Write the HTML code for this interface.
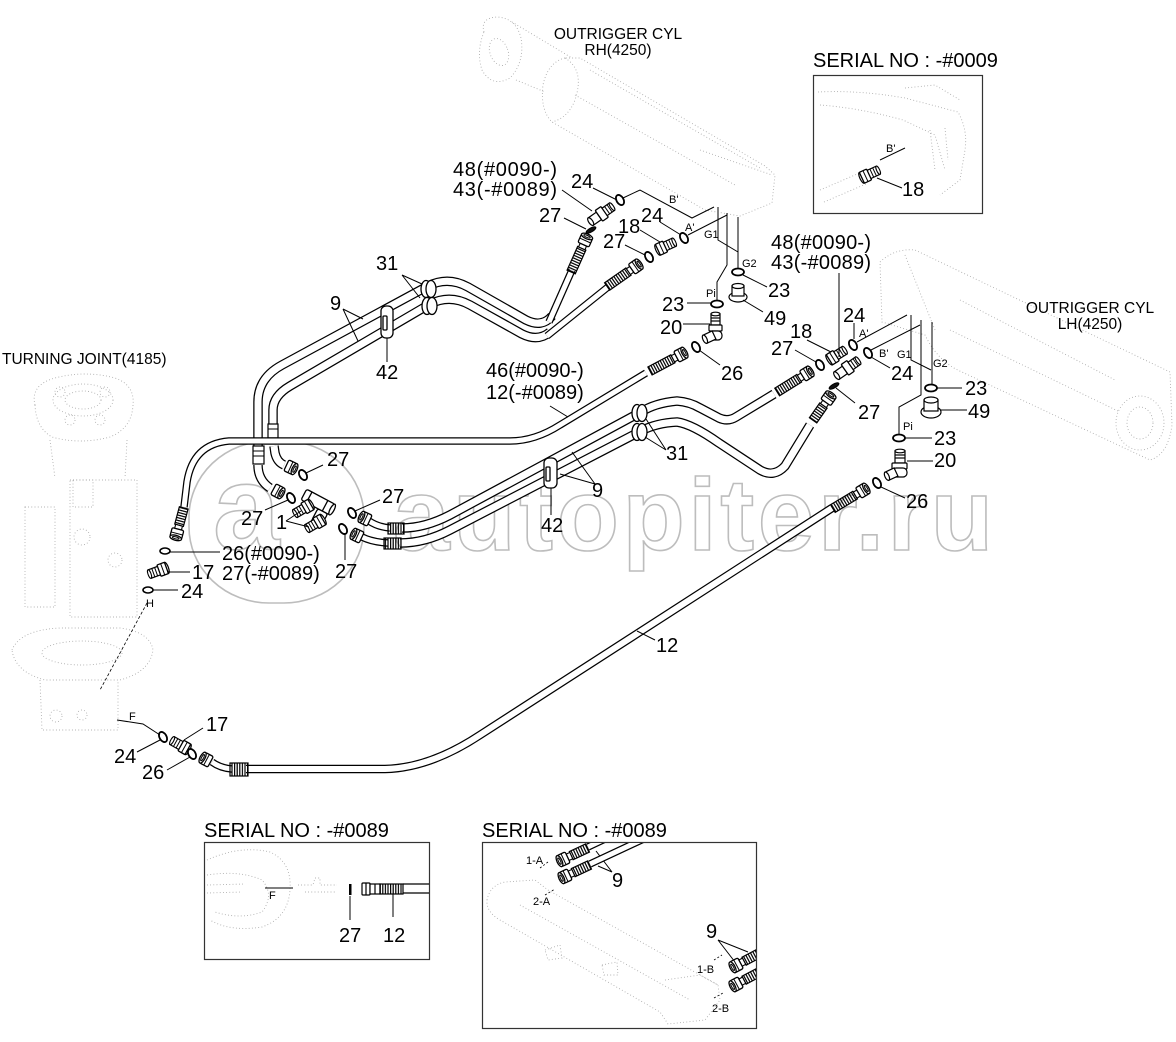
<!DOCTYPE html>
<html><head><meta charset="utf-8"><style>
html,body{margin:0;padding:0;background:#fff;overflow:hidden}
svg{display:block}
.t{font-family:"Liberation Sans",Arial,sans-serif;font-size:20px;fill:#000}
.s{font-family:"Liberation Sans",Arial,sans-serif;font-size:11px;fill:#000}
.m{font-family:"Liberation Sans",Arial,sans-serif;font-size:15.5px;fill:#000}
.ld{stroke:#000;stroke-width:1;fill:none}
.to{stroke:#000;stroke-width:9.5;fill:none}
.ti{stroke:#fff;stroke-width:7;fill:none}
.ho{stroke:#000;stroke-width:7.5;fill:none}
.hi{stroke:#fff;stroke-width:5;fill:none}
.g{fill:none;stroke:#a0a0a0;stroke-width:0.9;stroke-dasharray:0.8 2.4}
</style></head><body>
<svg width="1176" height="1042" viewBox="0 0 1176 1042" xmlns="http://www.w3.org/2000/svg">
<defs>
<pattern id="ht" width="2.6" height="14" patternUnits="userSpaceOnUse"><rect x="0" y="0" width="1.2" height="14" fill="#000"/></pattern>
<clipPath id="cb"><rect x="483" y="843" width="273" height="185"/></clipPath>
<clipPath id="cl"><rect x="205" y="843" width="224" height="116"/></clipPath>
<g id="hend">
<rect x="-34" y="-4.5" width="26" height="9" fill="url(#ht)" stroke="#000" stroke-width="1.2"/>
<rect x="-8" y="-3.5" width="4" height="7" fill="#fff" stroke="#000" stroke-width="1.1"/>
<rect x="-4" y="-6" width="9" height="12" rx="1.5" fill="#fff" stroke="#000" stroke-width="1.3"/>
<line x1="0.5" y1="-6" x2="0.5" y2="6" stroke="#000"/>
<ellipse cx="5" cy="0" rx="2.5" ry="6" fill="#fff" stroke="#000" stroke-width="1.3"/>
<ellipse cx="5" cy="0" rx="1" ry="3.5" fill="none" stroke="#000"/>
</g>
<g id="hend2">
<rect x="-26" y="-4.5" width="18" height="9" fill="url(#ht)" stroke="#000" stroke-width="1.2"/>
<rect x="-8" y="-3.5" width="4" height="7" fill="#fff" stroke="#000" stroke-width="1.1"/>
<rect x="-4" y="-6" width="9" height="12" rx="1.5" fill="#fff" stroke="#000" stroke-width="1.3"/>
<line x1="0.5" y1="-6" x2="0.5" y2="6" stroke="#000"/>
<ellipse cx="5" cy="0" rx="2.5" ry="6" fill="#fff" stroke="#000" stroke-width="1.3"/>
<ellipse cx="5" cy="0" rx="1" ry="3.5" fill="none" stroke="#000"/>
</g>
<g id="nut">
<rect x="-4" y="-6" width="9" height="12" rx="1.5" fill="#fff" stroke="#000" stroke-width="1.3"/>
<line x1="0.5" y1="-6" x2="0.5" y2="6" stroke="#000"/>
<ellipse cx="5" cy="0" rx="2.5" ry="6" fill="#fff" stroke="#000" stroke-width="1.3"/>
<ellipse cx="5" cy="0" rx="1" ry="3.5" fill="none" stroke="#000"/>
</g>
<g id="nip" stroke="#000" fill="#fff">
<ellipse cx="-9" cy="0" rx="2" ry="6" stroke-width="1.2"/>
<rect x="-9" y="-6" width="8" height="12" rx="1" stroke-width="1.3"/>
<line x1="-5" y1="-6" x2="-5" y2="6"/>
<rect x="-1" y="-4.5" width="10" height="9" stroke-width="1.2"/>
<line x1="2" y1="-4.5" x2="2" y2="4.5"/><line x1="5" y1="-4.5" x2="5" y2="4.5"/>
<ellipse cx="9" cy="0" rx="1.5" ry="4.5" stroke-width="1.1"/>
</g>
<g id="st" stroke="#000" fill="#fff">
<rect x="-15" y="-4.5" width="10" height="9" stroke-width="1.2"/>
<ellipse cx="-15" cy="0" rx="2" ry="4.5" stroke-width="1.2"/>
<rect x="-5" y="-6.5" width="7" height="13" rx="1" stroke-width="1.3"/>
<rect x="2" y="-4.5" width="9" height="9" stroke-width="1.2"/>
<line x1="5" y1="-4.5" x2="5" y2="4.5"/><line x1="8" y1="-4.5" x2="8" y2="4.5"/>
<ellipse cx="11" cy="0" rx="1.5" ry="4.5" stroke-width="1.1"/>
</g>
<ellipse id="or" cx="0" cy="0" rx="3.5" ry="5.5" fill="#fff" stroke="#000" stroke-width="1.8"/>
</defs>
<rect width="1176" height="1042" fill="#fff"/>

<!-- ghost drawings -->
<g class="g">
<path d="M484,32 Q480,18 497,17 Q516,18 521,38 Q525,62 510,78 Q492,88 482,70 Q476,52 484,32 Z"/>
<ellipse cx="499" cy="52" rx="9" ry="14" transform="rotate(-20 499 52)"/>
<path d="M512,22 L572,58 M516,80 L545,92"/>
<path d="M565,58 Q548,62 543,85 Q540,110 552,122 L705,210 L740,216 L772,203 L775,175 L765,166 L580,58 Z"/>
<path d="M575,95 L735,185 M700,150 L772,175 M565,58 Q585,70 575,100 Q568,118 552,122 M590,70 L760,168"/>
<path d="M880,262 Q895,248 915,250 L1170,372 L1172,425 Q1168,455 1150,460 L962,372 Q938,362 925,335 L882,322 Z"/>
<path d="M905,255 L935,330 M960,300 L1115,380 M950,330 L1120,412"/>
<ellipse cx="1140" cy="423" rx="24" ry="27"/>
<ellipse cx="1140" cy="423" rx="13" ry="16"/>
<path d="M818,92 Q860,90 905,98 L958,112 Q968,130 965,150 L960,180 L940,195"/>
<path d="M820,105 Q860,108 903,120 L935,135 L945,170 M905,88 L935,85 L960,100"/>
<path d="M820,190 L862,172 M824,202 L866,184 M930,130 L935,170 M945,128 L948,160"/>
<path d="M35,405 Q30,385 55,378 Q85,370 115,378 Q135,385 133,405 Q132,428 110,437 Q80,445 52,437 Q36,428 35,405 Z"/>
<ellipse cx="83" cy="400" rx="30" ry="16"/>
<ellipse cx="83" cy="400" rx="18" ry="9"/>
<circle cx="60" cy="392" r="5"/><circle cx="105" cy="392" r="5"/><circle cx="70" cy="420" r="5"/><circle cx="100" cy="420" r="5"/>
<path d="M50,440 L55,478 M127,440 L125,478"/>
<rect x="70" y="480" width="67" height="137"/>
<rect x="73" y="480" width="20" height="27"/>
<rect x="25" y="507" width="30" height="100"/>
<circle cx="82" cy="537" r="8"/><circle cx="115" cy="560" r="7"/>
<path d="M12,650 Q20,630 60,628 L120,628 Q150,632 153,650 Q150,672 120,680 L45,680 Q15,672 12,650 Z"/>
<ellipse cx="82" cy="653" rx="40" ry="12"/>
<path d="M40,680 L42,730 L118,730 L118,680"/>
<circle cx="56" cy="716" r="6"/><circle cx="82" cy="715" r="5"/>
<path d="M207,860 Q240,845 270,852 Q292,862 290,890 Q288,918 262,927 Q230,932 210,920"/>
<path d="M207,875 Q240,870 262,880 Q275,895 262,912 Q240,920 215,912 M207,885 L245,884 M207,893 L242,892"/>
<path d="M298,885 L313,885 L315,878 L320,878 L320,885 L337,885 M305,892 L337,892"/>
<path d="M487,900 Q490,885 505,882 L535,880 L548,890 L718,985 L720,1000 L705,1020 L668,1024 L660,1012 L500,920 Q486,912 487,900 Z"/>
<path d="M520,905 L690,1000 M545,950 L560,945 L562,958 L548,960 Z M602,965 L617,962 L618,975 L604,975 Z M665,980 L700,975 L718,985"/>
</g>

<!-- watermark -->
<g fill="none" stroke="#bdbdbd" stroke-width="1.6" font-family="Liberation Sans, Arial, sans-serif" font-weight="bold">
<rect x="189" y="441" width="175" height="162" rx="80" ry="76"/>
<text x="213" y="549" font-size="120">a</text>
<text x="393" y="550" font-size="102" textLength="600" lengthAdjust="spacing">autopiter.ru</text>
</g>

<!-- boxes -->
<g fill="none" stroke="#333" stroke-width="1.2">
<rect x="813.5" y="75.5" width="169" height="138"/>
<rect x="204.5" y="842.5" width="225" height="117"/>
<rect x="482.5" y="842.5" width="274" height="186"/>
</g>

<!-- upper tube pair 9 -->
<path class="to" d="M258,447 L258,402 Q258,378 282,365 L428,286 Q448,276 468,287 L526,320 Q542,328 552,316"/>
<path class="ti" d="M258,447 L258,402 Q258,378 282,365 L428,286 Q448,276 468,287 L526,320 Q542,328 552,316"/>
<path class="to" d="M273,437 L273,410 Q273,396 290,386 L430,304 Q450,294 470,305 L522,334 Q538,342 550,332"/>
<path class="ti" d="M273,437 L273,410 Q273,396 290,386 L430,304 Q450,294 470,305 L522,334 Q538,342 550,332"/>
<path class="ho" d="M549,322 L572,270"/><path class="hi" d="M549,322 L572,270"/>
<path class="ho" d="M547,336 L608,287"/><path class="hi" d="M547,336 L608,287"/>
<use href="#hend" transform="translate(585,241) rotate(-66)"/>
<use href="#hend" transform="translate(635,267) rotate(-35)"/>
<!-- left ends upper -->
<rect x="253" y="446" width="11" height="18" fill="#fff" stroke="#000" stroke-width="1.2"/>
<line x1="253" y1="451" x2="264" y2="451" stroke="#000"/><line x1="253" y1="456" x2="264" y2="456" stroke="#000"/>
<path class="to" d="M258,465 Q258,480 270,488"/><path class="ti" d="M258,465 Q258,480 270,488"/>
<use href="#nut" transform="translate(277,491) rotate(28)"/>
<rect x="268" y="424" width="10" height="14" fill="#fff" stroke="#000" stroke-width="1.2"/>
<line x1="268" y1="429" x2="278" y2="429" stroke="#000"/>
<path class="to" d="M274,446 L275,453 Q277,462 284,465"/><path class="ti" d="M274,446 L275,453 Q277,462 284,465"/>
<use href="#nut" transform="translate(290,467) rotate(25)"/>

<!-- hose 46/12 -->
<path class="ho" d="M184,507 L187,482 Q193,444 229,441 L510,441 Q535,441 560,425 L646,373"/>
<path class="hi" d="M184,507 L187,482 Q193,444 229,441 L510,441 Q535,441 560,425 L646,373"/>
<use href="#hend" transform="translate(680,355) rotate(-28)"/>
<use href="#hend2" transform="translate(177,533) rotate(105)"/>

<!-- clamps upper -->
<g fill="#fff" stroke="#000" stroke-width="1.3">
<ellipse cx="426" cy="289" rx="5" ry="8.5"/><ellipse cx="431" cy="289" rx="5" ry="8.5"/>
<ellipse cx="427" cy="306" rx="5" ry="8.5"/><ellipse cx="432" cy="306" rx="5" ry="8.5"/>
<rect x="381" y="306" width="12" height="32" rx="5"/>
<rect x="383" y="316" width="4" height="14" rx="1"/>
</g>

<!-- lower tube pair 9 -->
<path class="to" d="M402,528 Q425,528 450,515 L641,412 Q655,403 677,401 Q690,402 700,408 L719,418 Q728,422 736,417 L774,394"/>
<path class="ti" d="M402,528 Q425,528 450,515 L641,412 Q655,403 677,401 Q690,402 700,408 L719,418 Q728,422 736,417 L774,394"/>
<path class="to" d="M400,543 Q425,543 450,530 L641,431 Q656,423 677,422 Q692,424 719,443 L760,470 Q774,478 785,466 L810,425"/>
<path class="ti" d="M400,543 Q425,543 450,530 L641,431 Q656,423 677,422 Q692,424 719,443 L760,470 Q774,478 785,466 L810,425"/>
<use href="#hend" transform="translate(806,374) rotate(-32)"/>
<use href="#hend2" transform="translate(828,399) rotate(-55)"/>
<g fill="#fff" stroke="#000" stroke-width="1.3">
<ellipse cx="637" cy="413" rx="5" ry="8.5"/><ellipse cx="642" cy="413" rx="5" ry="8.5"/>
<ellipse cx="637" cy="432" rx="5" ry="8.5"/><ellipse cx="642" cy="432" rx="5" ry="8.5"/>
<rect x="544" y="458" width="13" height="30" rx="5"/>
<rect x="546" y="467" width="4" height="14" rx="1"/>
</g>
<!-- left ends lower -->
<path class="ho" d="M390,528 Q378,527 369,521"/><path class="hi" d="M390,528 Q378,527 369,521"/>
<path class="ho" d="M388,543 Q372,542 362,537"/><path class="hi" d="M388,543 Q372,542 362,537"/>
<rect x="388" y="523" width="16" height="11" fill="url(#ht)" stroke="#000" stroke-width="1.2"/>
<rect x="384" y="538" width="17" height="11" fill="url(#ht)" stroke="#000" stroke-width="1.2"/>
<use href="#nut" transform="translate(366,519) rotate(-155)"/>
<use href="#nut" transform="translate(358,536) rotate(-155)"/>

<!-- hose 12 -->
<path stroke="#000" stroke-width="8.5" fill="none" d="M246,769 L385,769 Q430,768 480,735 L832,508"/>
<path stroke="#fff" stroke-width="6" fill="none" d="M246,769 L385,769 Q430,768 480,735 L832,508"/>
<use href="#hend" transform="translate(862,491) rotate(-31)"/>
<path class="ho" d="M232,769 Q220,768 212,762"/><path class="hi" d="M232,769 Q220,768 212,762"/>
<rect x="230" y="763" width="18" height="13" fill="url(#ht)" stroke="#000" stroke-width="1.2"/>
<use href="#nut" transform="translate(207,760) rotate(-152)"/>

<!-- RH cluster fittings -->
<use href="#st" transform="translate(603,213) rotate(-35)"/>
<use href="#nip" transform="translate(666,246) rotate(-25)"/>
<use href="#or" transform="translate(620,200) rotate(-30)"/>
<use href="#or" transform="translate(684,238) rotate(-30)"/>
<use href="#or" transform="translate(649,257) rotate(-30)"/>
<ellipse cx="591" cy="230" rx="5.5" ry="2" transform="rotate(-30 591 230)" fill="#111" stroke="#000"/>
<ellipse cx="738" cy="272" rx="6" ry="3.5" fill="#fff" stroke="#000" stroke-width="1.8"/>
<ellipse cx="717" cy="304" rx="6" ry="3.5" fill="#fff" stroke="#000" stroke-width="1.8"/>
<g fill="#fff" stroke="#000" stroke-width="1.2">
<ellipse cx="738" cy="297" rx="9" ry="5"/>
<rect x="732" y="286" width="12" height="10"/>
<ellipse cx="738" cy="286" rx="6" ry="2.5"/>
<rect x="711" y="314" width="9" height="11"/>
<ellipse cx="715.5" cy="314" rx="4.5" ry="1.8"/>
<line x1="711" y1="318" x2="720" y2="318"/><line x1="711" y1="321" x2="720" y2="321"/>
<rect x="709" y="325" width="13" height="6" rx="1"/>
<rect x="709" y="331" width="13" height="9" rx="4"/>
<g transform="translate(714,335) rotate(155)"><rect x="0" y="-4.5" width="10" height="9"/><ellipse cx="10" cy="0" rx="2" ry="4.5"/></g>
</g>

<!-- LH cluster fittings -->
<use href="#nip" transform="translate(837,355) rotate(-32)"/>
<use href="#st" transform="translate(849,367) rotate(-35)"/>
<use href="#or" transform="translate(853,345) rotate(-30)"/>
<use href="#or" transform="translate(868,353) rotate(-30)"/>
<use href="#or" transform="translate(820,365) rotate(-30)"/>
<ellipse cx="834" cy="386" rx="5.5" ry="2" transform="rotate(-30 834 386)" fill="#111" stroke="#000"/>
<ellipse cx="931" cy="388" rx="6" ry="3.5" fill="#fff" stroke="#000" stroke-width="1.8"/>
<ellipse cx="899" cy="438" rx="6" ry="3.5" fill="#fff" stroke="#000" stroke-width="1.8"/>
<use href="#or" transform="translate(696,347) rotate(-30)"/>
<use href="#or" transform="translate(877,483) rotate(-30)"/>
<g fill="#fff" stroke="#000" stroke-width="1.2">
<ellipse cx="931" cy="412" rx="10" ry="6"/>
<rect x="924" y="400" width="14" height="11"/>
<ellipse cx="931" cy="400" rx="7" ry="3"/>
<rect x="895" y="451" width="10" height="12"/>
<ellipse cx="900" cy="451" rx="5" ry="1.8"/>
<line x1="895" y1="455" x2="905" y2="455"/><line x1="895" y1="458" x2="905" y2="458"/>
<rect x="892" y="463" width="15" height="6" rx="1"/>
<rect x="892" y="468" width="15" height="9" rx="4"/>
<g transform="translate(896,472) rotate(155)"><rect x="0" y="-4.5" width="10" height="9"/><ellipse cx="10" cy="0" rx="2" ry="4.5"/></g>
</g>

<!-- left cluster -->
<use href="#or" transform="translate(303,475) rotate(-30)"/>
<use href="#or" transform="translate(291,498) rotate(-30)"/>
<g transform="translate(318,502) rotate(28)" fill="#fff" stroke="#000" stroke-width="1.3">
<rect x="-16" y="-6" width="32" height="12" rx="2"/>
<line x1="-10" y1="-6" x2="-10" y2="6"/><line x1="8" y1="-6" x2="8" y2="6"/>
<rect x="3" y="6" width="11" height="13" rx="2"/>
<ellipse cx="16" cy="0" rx="2" ry="6"/>
<ellipse cx="8.5" cy="19" rx="5.5" ry="2"/>
</g>
<use href="#nip" transform="translate(303,509) rotate(150)"/>
<use href="#nip" transform="translate(315,524) rotate(150)"/>
<use href="#or" transform="translate(352,513) rotate(-30)"/>
<use href="#or" transform="translate(343,529) rotate(-30)"/>
<ellipse cx="165" cy="551" rx="5" ry="3" fill="#fff" stroke="#000" stroke-width="1.6"/>
<use href="#nip" transform="translate(158,571) rotate(160)"/>
<ellipse cx="148" cy="590" rx="5" ry="3" fill="#fff" stroke="#000" stroke-width="1.6"/>
<use href="#or" transform="translate(163,737) rotate(-30)"/>
<use href="#nip" transform="translate(180,745) rotate(-151)"/>
<use href="#or" transform="translate(192,754) rotate(-30)"/>

<!-- leaders and port lines -->
<g class="ld">
<path d="M593,188 L617,200 M562,190 L592,211 M564,218 L586,229 M660,222 L681,235 M640,230 L660,242 M625,245 L645,255"/>
<path d="M743,275 L767,287 M687,303 L711,303 M743,300 L763,312 M683,324 L710,324"/>
<path d="M623,198 L640,190 L692,218 L714,207 M688,235 L727,215 M718,207 L718,240 L738,252 M738,217 L738,268 M727,213 L727,265 L717,282 L717,300"/>
<path d="M807,340 L831,352 M795,350 L816,362 M839,273 L839,357 M854,323 L854,339"/>
<path d="M857,342 L907,315 M871,350 L920,325 M911,315 L911,360 L931,370 M932,322 L932,384 M921,320 L921,395 L899,407 L899,434"/>
<path d="M871,357 L890,368 M836,388 L855,403 M937,388 L962,388 M941,410 L967,410 M905,438 L932,438 M907,461 L933,461 M699,350 L720,365 M881,487 L905,498"/>
<path d="M323,465 L306,473 M265,510 L288,500 M286,521 L301,511 M286,521 L309,527 M380,500 L355,511 M345,533 L345,560"/>
<path d="M170,552 L220,552 M167,572 L190,572 M153,590 L178,590"/>
<path d="M117,720 L143,724 L160,735 M160,740 L137,752 M184,740 L203,728 M190,757 L167,770"/>
<path d="M402,275 L422,284 M402,275 L420,298 M343,309 L363,319 M343,309 L358,341 M387,338 L387,362"/>
<path d="M595,484 L572,452 M595,484 L560,474 M666,450 L646,419 M666,450 L645,437 M551,515 L551,488 M655,640 L637,631 M550,406 L568,417"/>
<path d="M265,888 L293,888 M350,896 L350,920 M393,894 L393,917"/>
<path d="M612,872 L596,851 M612,872 L598,866 M718,940 L735,962 M718,940 L748,952"/>
</g>
<path d="M147,603 L100,690" stroke="#000" stroke-width="0.8" stroke-dasharray="3 2" fill="none"/>
<path d="M540,868 L548,862 M545,895 L555,889 M714,960 L722,955 M714,998 L723,993" stroke="#000" stroke-width="0.8" stroke-dasharray="2 2" fill="none"/>

<!-- bottom-left box fitting -->
<g clip-path="url(#cl)">
<rect x="349" y="884" width="2.5" height="11" fill="#000"/>
<g fill="#fff" stroke="#000" stroke-width="1.2">
<rect x="362" y="883" width="8" height="12" rx="1"/>
<line x1="366" y1="883" x2="366" y2="895"/>
<rect x="370" y="884" width="10" height="10"/>
<line x1="375" y1="884" x2="375" y2="894"/>
</g>
<rect x="380" y="884" width="23" height="10" fill="url(#ht)" stroke="#000" stroke-width="1.2"/>
<path d="M403,884 L430,884 M403,893 L430,893" stroke="#000" stroke-width="1.2"/>
</g>

<!-- bottom-right box fittings -->
<g clip-path="url(#cb)">
<path class="ho" d="M588,847 L660,813"/><path class="hi" d="M588,847 L660,813"/>
<path class="ho" d="M590,864 L680,822"/><path class="hi" d="M590,864 L680,822"/>
<use href="#hend2" transform="translate(564,859) rotate(155)"/>
<use href="#hend2" transform="translate(566,876) rotate(155)"/>
<path class="ho" d="M760,953 L800,932"/><path class="hi" d="M760,953 L800,932"/>
<use href="#hend2" transform="translate(737,965) rotate(152)"/>
<use href="#hend2" transform="translate(737,984) rotate(152)"/>
</g>

<!-- labels -->
<text class="m" x="618" y="39" text-anchor="middle">OUTRIGGER CYL</text>
<text class="m" x="618" y="55" text-anchor="middle">RH(4250)</text>
<text class="m" x="1090" y="313" text-anchor="middle">OUTRIGGER CYL</text>
<text class="m" x="1090" y="329" text-anchor="middle">LH(4250)</text>
<text class="m" x="2" y="364">TURNING JOINT(4185)</text>
<text class="t" x="813" y="67">SERIAL NO : -#0009</text>
<text class="t" x="204" y="837">SERIAL NO : -#0089</text>
<text class="t" x="482" y="837">SERIAL NO : -#0089</text>

<text class="t" x="453" y="176" textLength="104" lengthAdjust="spacing">48(#0090-)</text>
<text class="t" x="453" y="196" textLength="104" lengthAdjust="spacing">43(-#0089)</text>
<text class="t" x="771" y="249" textLength="100" lengthAdjust="spacing">48(#0090-)</text>
<text class="t" x="771" y="269" textLength="100" lengthAdjust="spacing">43(-#0089)</text>
<text class="t" x="486" y="377">46(#0090-)</text>
<text class="t" x="486" y="399">12(-#0089)</text>
<text class="t" x="222" y="560">26(#0090-)</text>
<text class="t" x="222" y="580">27(-#0089)</text>

<text class="t" x="571" y="188">24</text>
<text class="t" x="539" y="222">27</text>
<text class="t" x="641" y="222">24</text>
<text class="t" x="618" y="233">18</text>
<text class="t" x="603" y="248">27</text>
<text class="t" x="768" y="297">23</text>
<text class="t" x="662" y="311">23</text>
<text class="t" x="764" y="325">49</text>
<text class="t" x="660" y="334">20</text>

<text class="t" x="843" y="322">24</text>
<text class="t" x="790" y="338">18</text>
<text class="t" x="771" y="355">27</text>
<text class="t" x="891" y="380">24</text>
<text class="t" x="721" y="380">26</text>
<text class="t" x="965" y="395">23</text>
<text class="t" x="968" y="418">49</text>
<text class="t" x="858" y="419">27</text>
<text class="t" x="934" y="445">23</text>
<text class="t" x="934" y="467">20</text>
<text class="t" x="906" y="508">26</text>

<text class="t" x="376" y="270">31</text>
<text class="t" x="330" y="310">9</text>
<text class="t" x="376" y="379">42</text>
<text class="t" x="666" y="460">31</text>
<text class="t" x="592" y="497">9</text>
<text class="t" x="541" y="532">42</text>
<text class="t" x="656" y="652">12</text>

<text class="t" x="327" y="466">27</text>
<text class="t" x="382" y="503">27</text>
<text class="t" x="241" y="525">27</text>
<text class="t" x="276" y="529">1</text>
<text class="t" x="192" y="579">17</text>
<text class="t" x="335" y="578">27</text>
<text class="t" x="181" y="598">24</text>
<text class="t" x="206" y="731">17</text>
<text class="t" x="114" y="763">24</text>
<text class="t" x="142" y="779">26</text>

<text class="t" x="339" y="942">27</text>
<text class="t" x="383" y="942">12</text>
<text class="t" x="612" y="887">9</text>
<text class="t" x="706" y="938">9</text>

<text class="s" x="669" y="203">B'</text>
<text class="s" x="685" y="231">A'</text>
<text class="s" x="704" y="238">G1</text>
<text class="s" x="742" y="267">G2</text>
<text class="s" x="706" y="297">Pi</text>
<text class="s" x="886" y="152">B'</text>
<text class="t" x="902" y="196">18</text>
<text class="s" x="859" y="337">A'</text>
<text class="s" x="879" y="357">B'</text>
<text class="s" x="897" y="358">G1</text>
<text class="s" x="933" y="367">G2</text>
<text class="s" x="903" y="430">Pi</text>
<text class="s" x="146" y="607">H</text>
<text class="s" x="129" y="720">F</text>
<text class="s" x="269" y="899">F</text>
<text class="s" x="526" y="864">1-A</text>
<text class="s" x="533" y="905">2-A</text>
<text class="s" x="697" y="973">1-B</text>
<text class="s" x="712" y="1012">2-B</text>

<!-- inset -#0009 fitting -->
<use href="#nip" transform="translate(870,174) rotate(-25)"/>
<path class="ld" d="M877,178 L902,188 M880,160 L905,148"/>
</svg>
</body></html>
